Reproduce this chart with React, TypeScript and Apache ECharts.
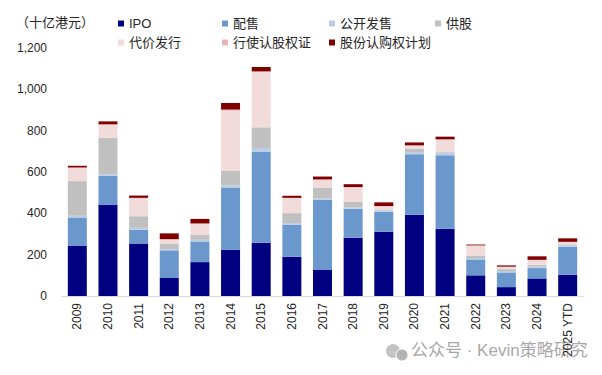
import React, { useEffect, useRef } from "react";
import * as echarts from "echarts";

const years = ["2009", "2010", "2011", "2012", "2013", "2014", "2015", "2016", "2017", "2018", "2019", "2020", "2021", "2022", "2023", "2024", "2025 YTD"];
const ipo = [242, 441, 254, 87, 164, 224, 258, 190, 126, 282, 311, 393, 325, 100, 43, 85, 103];
const placement = [138, 140, 66, 134, 100, 301, 439, 154, 339, 140, 96, 293, 356, 77, 71, 50, 135];
const publicOffer = [8, 8, 10, 6, 8, 10, 19, 9, 7, 6, 7, 10, 13, 7, 7, 8, 7];
const rights = [168, 176, 56, 27, 23, 70, 100, 48, 51, 28, 5, 17, 3, 11, 9, 8, 5];
const consideration = [63, 62, 86, 19, 54, 292, 268, 72, 40, 70, 15, 15, 60, 49, 11, 23, 11];
const warrants = [3, 4, 3, 2, 2, 5, 3, 2, 1, 1, 1, 1, 1, 1, 1, 1, 1];
const options = [8, 14, 11, 28, 22, 32, 21, 10, 14, 14, 18, 14, 13, 4, 6, 17, 17];

const seriesNames = ["IPO", "配售", "公开发售", "供股", "代价发行", "行使认股权证", "股份认购权计划"];
const seriesData = [ipo, placement, publicOffer, rights, consideration, warrants, options];
const colors = ["#000080", "#6b98cc", "#b9cde5", "#c0c0c0", "#f2dcdb", "#e3b7b9", "#800000"];
const yTicks = [0, 200, 400, 600, 800, 1000, 1200];

const FONT = "'Liberation Sans', Arial, 'Noto Sans CJK SC', sans-serif";

const legendPos = [
  { left: 118, top: 17 },
  { left: 222, top: 17 },
  { left: 329, top: 17 },
  { left: 435, top: 17 },
  { left: 118, top: 36 },
  { left: 222, top: 36 },
  { left: 329, top: 36 },
];

export default function App() {
  const ref = useRef<HTMLDivElement>(null);
  useEffect(() => {
    if (!ref.current) return;
    const chart = echarts.init(ref.current, null, { renderer: "svg" });
    chart.setOption({
      animation: false,
      backgroundColor: "#ffffff",
      textStyle: { fontFamily: FONT },
      title: {
        text: "（十亿港元）",
        left: 16,
        top: 16,
        padding: 0,
        textStyle: { fontSize: 13, fontWeight: "normal", color: "#262626", fontFamily: FONT },
      },
      legend: seriesNames.map((n, i) => ({
        data: [n],
        left: legendPos[i].left,
        top: legendPos[i].top,
        padding: 0,
        icon: "rect",
        itemWidth: 6,
        itemHeight: 6,
        selectedMode: false,
        textStyle: { fontSize: 13, color: "#262626", fontFamily: FONT },
      })),
      grid: { left: 62, right: 19, top: 48, bottom: 79 },
      xAxis: {
        type: "category",
        data: years,
        axisLine: { lineStyle: { color: "#d9d9d9", width: 1 } },
        axisTick: { show: false },
        axisLabel: { rotate: 90, fontSize: 12, color: "#262626", margin: 7, interval: 0, fontFamily: FONT },
      },
      yAxis: {
        type: "value",
        min: yTicks[0],
        max: yTicks[yTicks.length - 1],
        interval: 200,
        splitLine: { show: false },
        axisLine: { show: false },
        axisTick: { show: false },
        axisLabel: {
          fontSize: 12,
          color: "#262626",
          margin: 15,
          fontFamily: FONT,
          formatter: (v: number) => v.toLocaleString("en-US"),
        },
      },
      series: seriesNames.map((n, i) => ({
        name: n,
        type: "bar",
        stack: "total",
        barWidth: 19,
        data: seriesData[i],
        itemStyle: { color: colors[i] },
      })),
      graphic: [
        { type: "circle", shape: { cx: 393, cy: 351, r: 7 }, style: { fill: "#c4c4c4" } },
        { type: "circle", shape: { cx: 402, cy: 355, r: 6 }, style: { fill: "#b4b4b4", stroke: "#ffffff", lineWidth: 1 } },
        {
          type: "text",
          left: 411,
          top: 342,
          style: { text: "公众号 · Kevin策略研究", fontSize: 17, fill: "#a8a8a8", fontFamily: FONT },
        },
      ],
    });
    return () => chart.dispose();
  }, []);
  return <div ref={ref} style={{ width: 602, height: 375, position: "absolute", left: 0, top: 0 }} />;
}
